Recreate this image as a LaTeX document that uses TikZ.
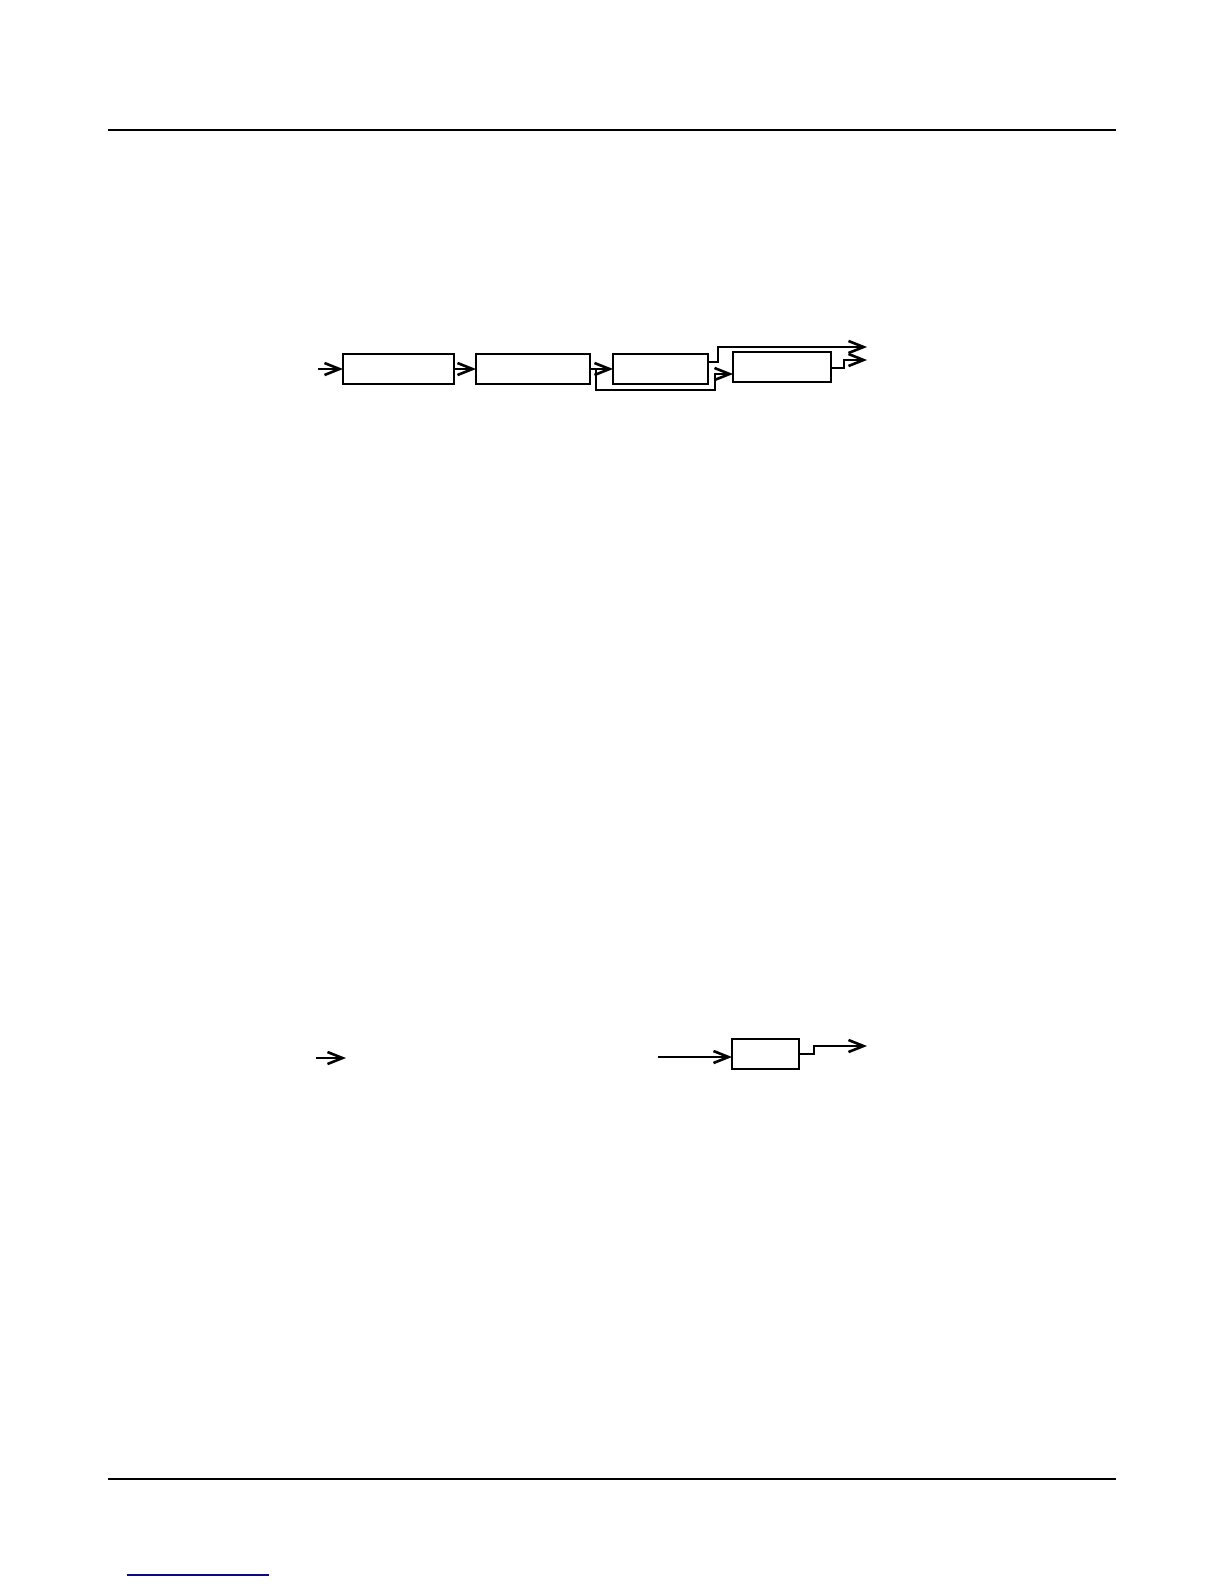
\documentclass[tikz,border=0pt]{standalone}
\usetikzlibrary{arrows.meta}
\definecolor{navyline}{RGB}{10,10,130}
\tikzset{
  blk/.style={draw, line width=1.35pt, minimum height=15pt, inner sep=0pt, outer sep=0pt},
  arr/.style={line width=1.35pt, -{Straight Barb[length=7.5pt,width=6pt,line width=1.3pt]}},
  rule/.style={line width=0.6pt}
}
\begin{document}
\begin{tikzpicture}[x=0.5pt,y=-0.5pt]
\useasboundingbox (0,0) rectangle (1224,1584);
% page rules
\coordinate (r1a) at (108,130); \coordinate (r1b) at (1116,130);
\coordinate (r2a) at (108,1479); \coordinate (r2b) at (1116,1479);
\coordinate (bl1) at (127,1575); \coordinate (bl2) at (269,1575);
\draw[rule] (r1a) -- (r1b);
\draw[rule] (r2a) -- (r2b);
\draw[navyline, line width=0.8pt] (bl1) -- (bl2);
% top diagram
\node[blk, minimum width=55.5pt] (A) at (398.5,369) {};
\node[blk, minimum width=57pt] (B) at (533,369) {};
\node[blk, minimum width=47.5pt] (C) at (660.5,369) {};
\node[blk, minimum width=49pt] (D) at (782,367) {};
\coordinate (in) at (318,369);
\coordinate (j) at (596,369);
\coordinate (o1) at (867,347);
\coordinate (o2) at (867,360);
\draw[arr] (in) -- (A.west);
\draw[arr] (A.east) -- (B.west);
\draw[arr] (B.east) -- (C.west);
\draw[arr] (j) -- (596,390) -- (715,390) -- (715,374) -- (D.west |- 0,374);
\draw[arr] (C.east |- 0,362) -- (718,362) -- (718,347) -- (o1);
\draw[arr] (D.east |- 0,368) -- (844,368) -- (844,360) -- (o2);
% bottom diagram
\coordinate (b0) at (316,1058);
\coordinate (b1) at (346,1058);
\draw[arr] (b0) -- (b1);
\node[blk, minimum width=33.5pt] (E) at (765.5,1054) {};
\coordinate (e0) at (658,1057);
\coordinate (o3) at (867,1046);
\draw[arr] (e0) -- (E.west |- 0,1057);
\draw[arr] (E.east |- 0,1054) -- (814,1054) -- (814,1046) -- (o3);
\end{tikzpicture}
\end{document}
